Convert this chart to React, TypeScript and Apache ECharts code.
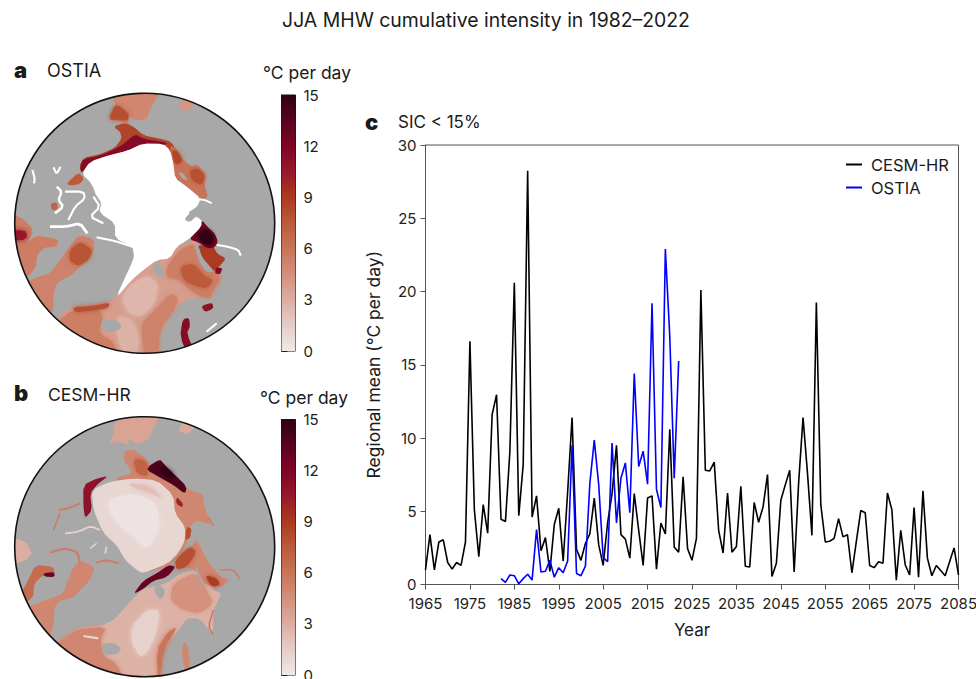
import React, { useEffect, useRef } from "react";
import * as echarts from "echarts";

const cesmValues = [
  1.0, 3.4, 1.0, 2.9, 3.05, 1.5, 1.05, 1.5, 1.3, 2.9, 16.6, 5.1, 1.9, 5.45, 3.5, 11.6, 12.95, 4.45, 4.3, 9.1,
  20.6, 4.7, 8.2, 28.25, 4.6, 6.05, 2.3, 3.2, 0.9, 4.1, 5.2, 1.6, 6.3, 11.4, 2.4, 1.65, 2.8, 3.45, 5.9, 2.7,
  1.3, 4.2, 6.2, 9.5, 3.4, 3.1, 1.8, 6.2, 3.7, 1.3, 5.9, 6.05, 1.05, 4.2, 3.45, 10.6, 2.55, 2.2, 7.35, 2.45,
  1.65, 3.15, 20.1, 7.8, 7.75, 8.35, 3.7, 2.15, 6.25, 2.2, 2.6, 6.7, 1.25, 1.2, 5.6, 4.25, 5.3, 7.5, 0.55, 1.45,
  5.75, 6.8, 7.8, 0.85, 6.9, 11.4, 7.6, 3.35, 19.25, 5.45, 2.9, 2.95, 3.15, 4.5, 3.25, 3.4, 0.8, 2.95, 5.05, 4.9,
  1.3, 1.15, 1.55, 1.45, 6.25, 5.1, 0.3, 3.7, 1.35, 0.65, 5.25, 0.5, 6.4, 1.8, 0.6, 1.3, 0.95, 0.6, 1.55, 2.5, 0.65,
];
const ostiaValues = [
  0.4, 0.15, 0.65, 0.6, 0.05, 0.4, 0.7, 0.3, 3.75, 0.85, 0.9, 1.65, 0.5, 1.15, 0.8, 1.6, 9.5, 0.75, 0.6, 1.25,
  6.9, 9.85, 6.8, 1.85, 1.55, 9.65, 4.2, 7.25, 8.3, 4.9, 14.4, 8.05, 9.1, 6.85, 19.2, 6.5, 5.25, 22.9, 16.9, 7.25, 15.25,
];
const firstYear = 1965;
const ostiaFirstYear = 1982;
const years = cesmValues.map((_, i) => String(firstYear + i));
const ostiaSeries = years.map((y) => {
  const k = Number(y) - ostiaFirstYear;
  return k >= 0 && k < ostiaValues.length ? ostiaValues[k] : null;
});
const rampValues = [0, 1.5, 3, 4.5, 6, 7.5, 9, 10.5, 12, 13.5, 15];
const rampColors = ["#efe9e9", "#e5cdc8", "#dcaea1", "#d38f7b", "#c97458", "#bc5a3a", "#ac3a20", "#97182a", "#7d0525", "#5a0320", "#300214"];
const GREY = "#a8a8a8";
const WHITE = "white";

type P = [number, number];
type Region = { v: number | string; s?: boolean; pts: P[] };
type Stroke = { v: number | string; w: number; pts: P[] };

const ostiaRegions: Region[] = [
  { v: 3.8, pts: [[178,800],[200,780],[225,768],[270,765],[330,755],[350,735],[370,705],[420,665],[450,640],[470,630],[510,625],[530,590],[590,565],[592,610],[612,652],[650,662],[665,690],[642,720],[640,745],[600,742],[560,748],[530,770],[500,810],[472,860],[468,912],[400,918],[300,897],[230,862]] },
  { v: 5.4, s: true, pts: [[178,800],[225,775],[290,775],[310,800],[295,850],[340,875],[375,908],[300,897],[230,862]] },
  { v: 8, s: true, pts: [[218,772],[280,768],[330,758],[322,775],[270,782],[225,787]] },
  { v: 2.6, s: true, pts: [[385,710],[440,675],[475,700],[465,760],[425,800],[385,790],[365,745]] },
  { v: 5.2, s: true, pts: [[425,820],[465,780],[510,730],[535,745],[520,785],[480,835],[468,905],[440,905],[425,860]] },
  { v: 2.8, s: true, pts: [[350,795],[400,810],[420,880],[395,900],[350,860]] },
  { v: 5.4, s: true, pts: [[500,650],[540,600],[580,580],[592,615],[612,654],[650,664],[662,690],[640,720],[632,745],[600,740],[570,720],[540,690],[500,682]] },
  { v: 7.5, s: true, pts: [[540,650],[580,640],[615,680],[640,690],[620,715],[590,710],[550,690]] },
  { v: 9, pts: [[590,585],[640,590],[652,612],[678,625],[662,645],[642,665],[620,652],[605,620]] },
  { v: 11.5, pts: [[648,652],[668,655],[660,674],[644,670]] },
  { v: 12.5, pts: [[605,510],[622,530],[644,550],[654,575],[642,594],[620,594],[598,578],[568,568],[588,540]] },
  { v: 15, s: true, pts: [[592,548],[622,537],[642,562],[634,586],[608,580]] },
  { v: GREY, pts: [[585,585],[596,590],[606,622],[632,652],[642,664],[620,668],[600,640],[590,612]] },
  { v: GREY, pts: [[458,650],[475,630],[492,660],[488,688],[465,672]] },
  { v: GREY, pts: [[303,812],[340,806],[367,825],[354,843],[320,848],[303,832]] },
  { v: 11.5, pts: [[548,808],[567,803],[570,830],[560,850],[575,882],[555,888],[540,860]] },
  { v: 11, pts: [[603,768],[637,758],[640,776],[615,787]] },
  { v: 5.2, pts: [[85,690],[115,680],[150,670],[180,630],[210,590],[235,555],[282,565],[280,612],[240,650],[215,676],[170,697],[160,735],[160,775],[178,800],[130,750]] },
  { v: 7.8, s: true, pts: [[210,600],[240,575],[277,600],[267,628],[235,648],[208,632]] },
  { v: 5.5, pts: [[46,490],[62,500],[102,540],[82,580],[105,558],[135,560],[177,570],[167,592],[135,592],[112,612],[106,660],[85,690],[60,625],[47,560]] },
  { v: 10.5, s: true, pts: [[55,540],[75,540],[82,560],[68,572],[55,560]] },
  { v: 5, pts: [[335,147],[395,133],[495,137],[460,160],[445,190],[440,208],[405,212],[385,195],[385,225],[355,212],[325,210],[345,180],[345,160]] },
  { v: 8, s: true, pts: [[325,208],[345,165],[360,170],[385,190],[385,212],[355,210]] },
  { v: 4.2, pts: [[530,172],[560,158],[592,170],[565,187]] },
  { v: 8.5, pts: [[340,230],[375,218],[400,230],[430,256],[480,266],[515,276],[532,310],[522,342],[500,290],[490,282],[430,280],[380,303],[330,315],[270,335],[245,372],[238,350],[250,323],[300,313],[345,293],[365,265],[360,245]] },
  { v: 11.5, pts: [[250,327],[300,317],[345,297],[370,282],[405,252],[430,266],[500,278],[497,285],[430,282],[380,303],[330,315],[270,335],[245,370],[240,350]] },
  { v: 6, pts: [[510,285],[530,298],[550,330],[575,350],[590,343],[620,375],[612,400],[624,442],[605,447],[560,410],[525,385],[515,340]] },
  { v: 8.5, s: true, pts: [[515,300],[535,305],[548,335],[525,345]] },
  { v: 8, s: true, pts: [[570,360],[595,355],[615,380],[605,405],[575,390]] },
  { v: GREY, pts: [[535,365],[550,370],[565,392],[545,385]] },
  { v: 7.5, pts: [[198,402],[235,367],[252,385],[240,402],[215,407]] },
  { v: 7, pts: [[151,462],[170,456],[174,478],[156,482]] },
  { v: WHITE, pts: [[245,372],[270,335],[330,315],[380,303],[430,280],[490,282],[510,300],[520,340],[525,385],[560,410],[602,445],[592,470],[560,490],[605,508],[604,530],[570,565],[530,590],[510,625],[470,630],[430,660],[395,690],[345,748],[395,640],[402,620],[398,590],[345,565],[345,520],[300,490],[295,455],[275,400]] },
  { v: GREY, pts: [[552,508],[575,483],[592,495],[570,517]] },
  { v: GREY, pts: [[285,430],[305,460],[295,490],[275,460]] },
];
const ostiaStrokes: Stroke[] = [
  { v: WHITE, w: 3.5, pts: [[170,410],[185,425],[175,450],[190,470],[165,490]] },
  { v: WHITE, w: 3, pts: [[195,425],[250,425],[255,445],[225,470],[205,510]] },
  { v: WHITE, w: 4, pts: [[150,530],[200,530],[240,520],[262,550]] },
  { v: WHITE, w: 3, pts: [[290,562],[340,572],[398,590]] },
  { v: WHITE, w: 3, pts: [[280,440],[300,470],[270,500],[310,520]] },
  { v: WHITE, w: 3, pts: [[97,360],[104,385],[102,400]] },
  { v: WHITE, w: 3, pts: [[160,352],[170,372],[182,350]] },
  { v: WHITE, w: 3, pts: [[650,585],[682,590],[715,600],[722,617]] },
  { v: WHITE, w: 2.5, pts: [[592,448],[615,450],[635,460]] },
  { v: WHITE, w: 3, pts: [[620,845],[650,820]] },
];

const cesmRegions: Region[] = [
  { v: 2.8, pts: [[175,805],[225,775],[330,762],[395,690],[430,655],[460,650],[500,640],[540,610],[590,600],[640,660],[665,670],[640,720],[638,795],[600,745],[560,745],[530,790],[480,850],[465,923],[400,928],[300,907],[230,872]] },
  { v: 5, s: true, pts: [[175,805],[225,778],[320,770],[300,810],[310,860],[350,880],[390,918],[300,907],[230,872]] },
  { v: 1.3, s: true, pts: [[395,770],[440,720],[480,720],[470,790],[440,850],[420,860],[395,820]] },
  { v: 4.4, s: true, pts: [[520,640],[590,605],[620,660],[640,700],[600,730],[550,720],[510,690]] },
  { v: 6, s: true, pts: [[470,840],[500,790],[530,770],[520,790],[490,840],[470,905]] },
  { v: GREY, pts: [[305,822],[340,818],[365,835],[352,852],[320,856],[305,840]] },
  { v: GREY, pts: [[460,660],[475,640],[498,665],[480,692]] },
  { v: 5, pts: [[550,815],[562,820],[570,880],[550,892],[545,860]] },
  { v: 5, pts: [[535,555],[580,525],[590,505],[620,570],[660,620],[692,630],[655,655],[610,640],[590,600],[540,590]] },
  { v: 9, s: true, pts: [[615,615],[650,625],[660,645],[635,650]] },
  { v: GREY, pts: [[590,590],[605,630],[625,650],[605,640],[585,600]] },
  { v: 5, pts: [[92,702],[150,685],[190,672],[205,620],[235,570],[285,590],[270,630],[240,660],[225,680],[165,697],[160,770],[175,805],[130,750]] },
  { v: GREY, pts: [[150,670],[180,640],[215,610],[200,640],[170,668]] },
  { v: 3, pts: [[47,505],[75,510],[100,560],[62,590],[47,550]] },
  { v: 6.5, pts: [[88,690],[85,630],[105,585],[160,590],[165,615],[130,615],[102,640],[100,685]] },
  { v: 13, pts: [[130,610],[162,606],[164,621],[134,620]] },
  { v: 3.5, pts: [[338,168],[400,145],[495,150],[460,172],[445,210],[410,222],[385,205],[385,225],[355,215],[325,220],[345,190]] },
  { v: 3.2, pts: [[530,180],[560,170],[590,180],[565,195]] },
  { v: 5, pts: [[340,325],[400,310],[370,270],[375,240],[405,240],[440,270],[450,285],[525,320],[565,360],[610,372],[612,410],[636,465],[590,450],[565,475],[565,510],[540,550],[505,590],[430,610],[340,500]] },
  { v: 7, s: true, pts: [[400,265],[440,272],[445,320],[410,310]] },
  { v: 8, pts: [[560,470],[575,475],[570,505],[555,510]] },
  { v: 10, pts: [[530,380],[550,402],[545,412],[528,400]] },
  { v: 14, pts: [[450,285],[480,268],[490,280],[525,315],[560,350],[555,372],[520,345],[480,322],[440,300]] },
  { v: 15, s: true, pts: [[475,290],[510,300],[525,325],[495,320]] },
  { v: 11, pts: [[250,345],[290,325],[325,318],[295,340],[270,370],[276,420],[255,445],[250,410]] },
  { v: 1, pts: [[275,360],[330,335],[400,325],[470,330],[520,375],[525,430],[555,470],[555,510],[535,550],[505,580],[430,610],[410,600],[375,570],[350,525],[310,490],[280,420]] },
  { v: 0.3, s: true, pts: [[320,390],[400,370],[470,400],[480,480],[440,540],[400,500],[340,450]] },
  { v: 2.2, s: true, pts: [[380,340],[450,345],[500,400],[480,380],[420,360]] },
  { v: 13, pts: [[400,672],[430,632],[470,610],[505,585],[528,590],[500,622],[460,632],[425,660]] },
  { v: 8, s: true, pts: [[525,570],[570,530],[590,545],[560,590],[530,600]] },
];
const cesmStrokes: Stroke[] = [
  { v: 5.5, w: 3, pts: [[175,420],[205,415],[240,400]] },
  { v: 5.5, w: 2.5, pts: [[180,430],[170,455],[160,480]] },
  { v: 5.5, w: 3, pts: [[150,548],[190,535],[232,545],[240,580]] },
  { v: 5.5, w: 3, pts: [[288,578],[320,570],[355,580]] },
  { v: 1.2, w: 2.5, pts: [[195,490],[235,485],[272,468],[300,480]] },
  { v: 1.2, w: 2, pts: [[270,535],[290,520]] },
  { v: 1.2, w: 2.5, pts: [[315,550],[320,530]] },
  { v: 5.5, w: 2, pts: [[660,600],[700,598],[720,628]] },
  { v: 5.5, w: 2.5, pts: [[625,440],[640,468]] },
  { v: 1, w: 3, pts: [[250,798],[295,805]] },
  { v: 6, w: 2, pts: [[640,720],[625,770],[640,795]] },
];

function ramp(v: number | string): string {
  if (typeof v === "string") return v;
  const hex = (c: string) => [1, 3, 5].map((k) => parseInt(c.slice(k, k + 2), 16));
  for (let i = 1; i < rampValues.length; i++) {
    if (v <= rampValues[i]) {
      const t = (v - rampValues[i - 1]) / (rampValues[i] - rampValues[i - 1]);
      const a = hex(rampColors[i - 1]);
      const b = hex(rampColors[i]);
      return `rgb(${a.map((x, k) => Math.round(x + (b[k] - x) * t)).join(",")})`;
    }
  }
  return rampColors[rampColors.length - 1];
}

const SANS = "Inter, 'Noto Sans', sans-serif";

// Rounds corners so that the hand-traced outlines do not look faceted.
function chaikin(pts: number[][], closed: boolean) {
  const out: number[][] = [];
  const n = pts.length;
  const end = closed ? n : n - 1;
  if (!closed) out.push(pts[0]);
  for (let i = 0; i < end; i++) {
    const a = pts[i];
    const b = pts[(i + 1) % n];
    out.push([a[0] * 0.8 + b[0] * 0.2, a[1] * 0.8 + b[1] * 0.2]);
    out.push([a[0] * 0.2 + b[0] * 0.8, a[1] * 0.2 + b[1] * 0.8]);
  }
  if (!closed) out.push(pts[n - 1]);
  return out;
}

function mapSeries(idx: number, cx: number, cy: number, regions: Region[], strokes: Stroke[]) {
  const R = 390;
  // Outline points lying on the rim are pushed past it: the group's clip path trims them to the circle.
  const snap = (p: P): P => {
    const dx = p[0] - cx;
    const dy = p[1] - cy;
    const d = Math.hypot(dx, dy);
    return d > R - 14 ? [cx + (dx * (R + 45)) / d, cy + (dy * (R + 45)) / d] : p;
  };
  return {
    type: "custom",
    xAxisIndex: idx,
    yAxisIndex: idx,
    silent: true,
    clip: false,
    data: [[cx, cy]],
    renderItem: (_: any, api: any) => {
      const c = api.coord([cx, cy]);
      const r = Math.abs(api.coord([cx + R, cy])[0] - c[0]);
      const children: any[] = [{ type: "circle", shape: { cx: c[0], cy: c[1], r }, style: { fill: GREY } }];
      regions.forEach((g) => {
        const fill = ramp(g.v);
        children.push({
          type: "polygon",
          shape: { points: chaikin(g.pts.map((p) => api.coord(snap(p))), true) },
          style: g.s ? { fill, shadowBlur: 5, shadowColor: fill } : { fill },
        });
      });
      strokes.forEach((s) => {
        children.push({
          type: "polyline",
          shape: { points: chaikin(s.pts.map((p) => api.coord(p)), false) },
          style: { stroke: ramp(s.v), lineWidth: s.w * 0.7, fill: "none" },
        });
      });
      const clipped = { type: "group", clipPath: { type: "circle", shape: { cx: c[0], cy: c[1], r } }, children };
      const rim = { type: "circle", shape: { cx: c[0], cy: c[1], r }, style: { fill: "none", stroke: "#111", lineWidth: 1.6 } };
      return { type: "group", children: [clipped, rim] };
    },
  };
}

function colorbarSeries(idx: number) {
  return {
    type: "custom",
    xAxisIndex: idx,
    yAxisIndex: idx,
    silent: true,
    data: [[0, 0]],
    renderItem: (_: any, api: any) => {
      const a = api.coord([0, 15]);
      const b = api.coord([1, 0]);
      return {
        type: "rect",
        shape: { x: a[0], y: a[1], width: b[0] - a[0], height: b[1] - a[1] },
        style: {
          fill: new echarts.graphic.LinearGradient(
            0, 1, 0, 0,
            rampValues.map((v, i) => ({ offset: v / 15, color: rampColors[i] }))
          ),
        },
      };
    },
  };
}

const hiddenAxis = (min: number, max: number, extra = {}) => ({ type: "value", min, max, show: false, ...extra });

function colorbarY(gridIndex: number) {
  return {
    type: "value",
    gridIndex,
    min: 0,
    max: 15,
    interval: 3,
    position: "right",
    axisLine: { show: true, lineStyle: { color: "#111", width: 1 } },
    axisTick: { show: true, length: 6, lineStyle: { color: "#222", width: 1 } },
    axisLabel: { color: "#222", fontSize: 15, fontFamily: SANS, margin: 8 },
    splitLine: { show: false },
  };
}

const textEl = (x: number, y: number, text: string, size: number, weight: any = 400, extra = {}) => ({
  type: "text",
  x,
  y,
  style: { text, fontSize: size, fontWeight: weight, fontFamily: SANS, fill: "#1a1a1a", textVerticalAlign: "middle", ...extra },
});

export default function App() {
  const ref = useRef<HTMLDivElement>(null);
  useEffect(() => {
    const chart = echarts.init(ref.current!, null, { renderer: "svg" });
    const axisColor = "#555";
    chart.setOption({
      animation: false,
      backgroundColor: "#fff",
      textStyle: { fontFamily: SANS },
      title: {
        text: "JJA MHW cumulative intensity in 1982–2022",
        left: 481,
        top: 5,
        textAlign: "center",
        textStyle: { fontSize: 19.4, fontWeight: 400, color: "#1a1a1a", fontFamily: SANS },
      },
      legend: {
        data: ["CESM-HR", "OSTIA"],
        orient: "vertical",
        left: 846,
        top: 156,
        padding: 0,
        itemWidth: 16,
        itemHeight: 2,
        itemGap: 6,
        icon: "rect",
        selectedMode: false,
        textStyle: { fontSize: 16.5, color: "#1a1a1a", fontFamily: SANS, padding: [0, 0, 0, 4] },
      },
      grid: [
        { left: 425.5, top: 145, width: 533, height: 439.5, show: true, borderColor: axisColor, borderWidth: 1, outerBoundsMode: "none" },
        { left: 14.7, top: 93.3, width: 260, height: 260, outerBoundsMode: "none" },
        { left: 14.7, top: 416.7, width: 260, height: 260, outerBoundsMode: "none" },
        { left: 281.5, top: 95, width: 14, height: 256, show: true, borderColor: "#111", borderWidth: 1, outerBoundsMode: "none" },
        { left: 281.5, top: 419.5, width: 14, height: 255.5, show: true, borderColor: "#111", borderWidth: 1, outerBoundsMode: "none" },
      ],
      xAxis: [
        {
          type: "category",
          gridIndex: 0,
          data: years,
          boundaryGap: false,
          name: "Year",
          nameLocation: "middle",
          nameGap: 37,
          nameTextStyle: { fontSize: 17, color: "#1a1a1a", fontFamily: SANS },
          axisLine: { lineStyle: { color: axisColor, width: 1 } },
          axisTick: { interval: 9, length: 5, inside: false, lineStyle: { color: axisColor, width: 1 } },
          axisLabel: { interval: 9, color: "#222", fontSize: 15, margin: 11, fontFamily: SANS, hideOverlap: false },
          splitLine: { show: false },
        },
        hiddenAxis(44, 824, { gridIndex: 1 }),
        hiddenAxis(44, 824, { gridIndex: 2 }),
        hiddenAxis(0, 1, { gridIndex: 3 }),
        hiddenAxis(0, 1, { gridIndex: 4 }),
      ],
      yAxis: [
        {
          type: "value",
          gridIndex: 0,
          min: 0,
          max: 30,
          interval: 5,
          name: "Regional mean (°C per day)",
          nameLocation: "middle",
          nameGap: 43,
          nameTextStyle: { fontSize: 17.5, color: "#1a1a1a", fontFamily: SANS },
          axisLine: { show: true, lineStyle: { color: axisColor, width: 1 } },
          axisTick: { show: true, length: 5, lineStyle: { color: axisColor, width: 1 } },
          axisLabel: { color: "#222", fontSize: 15, margin: 9, fontFamily: SANS },
          splitLine: { show: false },
        },
        hiddenAxis(130, 910, { gridIndex: 1, inverse: true }),
        hiddenAxis(140, 920, { gridIndex: 2, inverse: true }),
        colorbarY(3),
        colorbarY(4),
      ],
      series: [
        { name: "CESM-HR", type: "line", data: cesmValues, showSymbol: false, lineStyle: { color: "#000", width: 1.6 }, itemStyle: { color: "#000" } },
        { name: "OSTIA", type: "line", data: ostiaSeries, showSymbol: false, connectNulls: false, lineStyle: { color: "#0000ff", width: 1.6 }, itemStyle: { color: "#0000ff" } },
        mapSeries(1, 434, 520, ostiaRegions, ostiaStrokes),
        mapSeries(2, 434, 530, cesmRegions, cesmStrokes),
        colorbarSeries(3),
        colorbarSeries(4),
      ],
      graphic: [
        textEl(14, 70, "a", 22, 900),
        textEl(47, 70, "OSTIA", 18),
        textEl(263, 72, "°C per day", 17.5),
        textEl(14, 393, "b", 22, 900),
        textEl(48, 394, "CESM-HR", 17.5),
        textEl(260, 397, "°C per day", 17.5),
        textEl(365, 122, "c", 22, 900),
        textEl(398, 122, "SIC < 15%", 17),
      ],
    });
    return () => chart.dispose();
  }, []);
  return <div ref={ref} style={{ position: "absolute", left: 0, top: 0, width: 976, height: 679 }} />;
}
